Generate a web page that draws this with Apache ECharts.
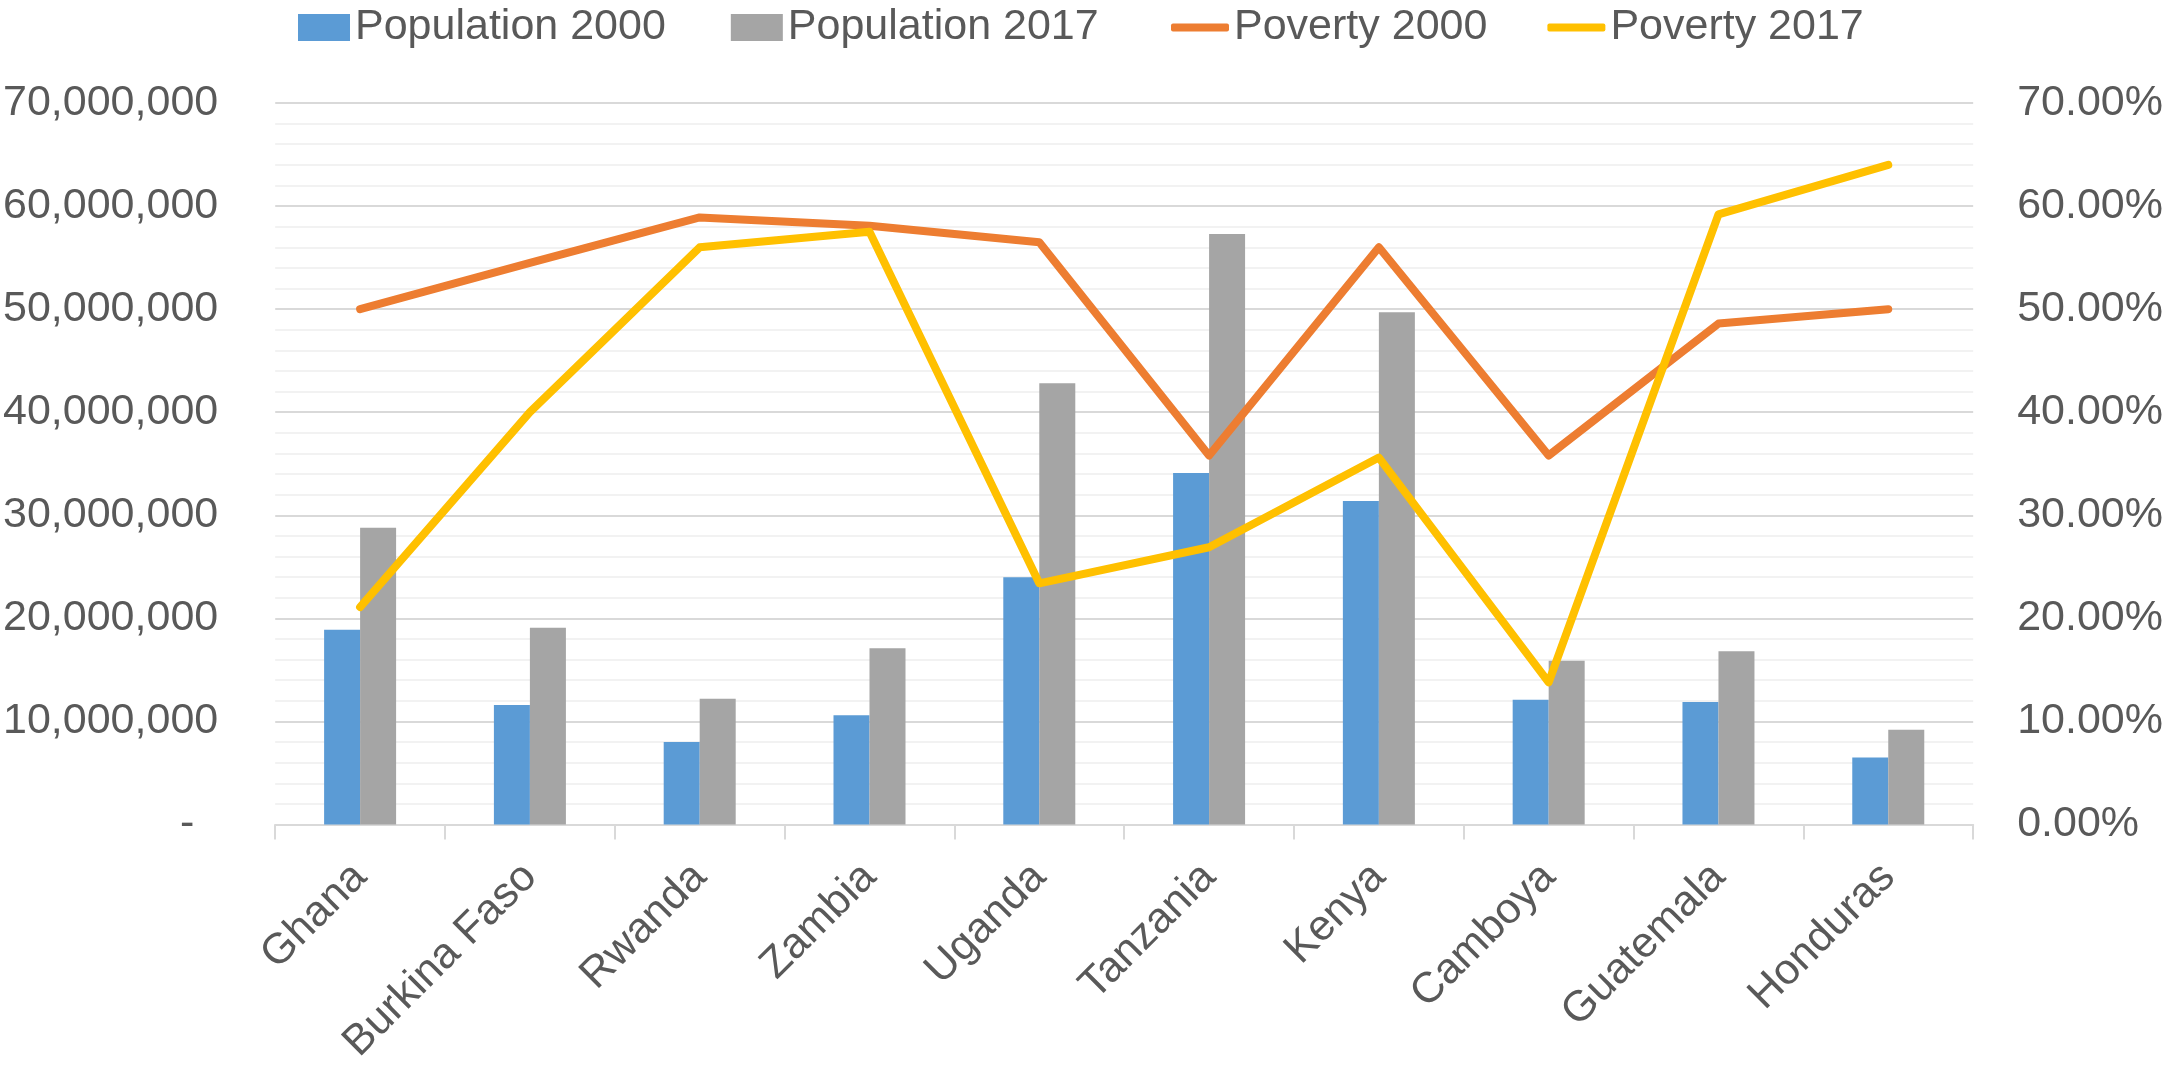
<!DOCTYPE html>
<html>
<head>
<meta charset="utf-8">
<script src="https://cdn.jsdelivr.net/npm/echarts@6/dist/echarts.min.js"></script>
<style>html,body{margin:0;padding:0;background:#fff}#c{width:2166px;height:1067px}</style>
</head>
<body>
<div id="c"></div>
<script>
var categories = ['Ghana','Burkina Faso','Rwanda','Zambia','Uganda','Tanzania','Kenya','Camboya','Guatemala','Honduras'];
var population2000 = [18900000, 11600000, 8000000, 10600000, 24000000, 34100000, 31400000, 12100000, 11900000, 6500000];
var population2017 = [28800000, 19100000, 12200000, 17100000, 42800000, 57300000, 49700000, 15900000, 16800000, 9200000];
var poverty2000 = [0.500, 0.545, 0.589, 0.581, 0.565, 0.358, 0.560, 0.358, 0.486, 0.500];
var poverty2017 = [0.211, 0.400, 0.560, 0.575, 0.234, 0.269, 0.356, 0.138, 0.592, 0.640];

var FONT = 'Liberation Sans';
var TXT = '#595959';
var chart = echarts.init(document.getElementById('c'));
chart.setOption({
  animation: false,
  textStyle: {fontFamily: FONT},
  legend: [
    {
      top: 1,
      left: 293,
      itemWidth: 52,
      itemHeight: 27,
      itemGap: 65,
      textStyle: {fontFamily: FONT, fontSize: 43, color: TXT},
      data: [
        {name: 'Population 2000', icon: 'rect'},
        {name: 'Population 2017', icon: 'rect'}
      ]
    },
    {
      top: 1,
      left: 1166,
      itemWidth: 58,
      itemHeight: 8,
      itemGap: 60,
      textStyle: {fontFamily: FONT, fontSize: 43, color: TXT},
      data: [
        {name: 'Poverty 2000', icon: 'roundRect'},
        {name: 'Poverty 2017', icon: 'roundRect'}
      ]
    }
  ],
  grid: {left: 274, right: 191, top: 103, bottom: 238, containLabel: false},
  xAxis: {
    type: 'category',
    data: categories,
    axisLine: {lineStyle: {color: '#d9d9d9', width: 2}},
    axisTick: {show: true, length: 15, lineStyle: {color: '#d9d9d9', width: 2}},
    axisLabel: {rotate: 45, margin: 46, fontSize: 43, color: TXT, fontFamily: FONT, interval: 0}
  },
  yAxis: [
    {
      type: 'value', min: 0, max: 70000000, interval: 10000000,
      axisLine: {show: false}, axisTick: {show: false},
      axisLabel: {
        margin: 57, fontSize: 43, color: TXT, fontFamily: FONT,
        formatter: function (v) { return v === 0 ? '-  ' : v.toLocaleString('en-US'); }
      },
      splitLine: {show: true, lineStyle: {color: '#d9d9d9', width: 2}},
      minorTick: {show: false, splitNumber: 5},
      minorSplitLine: {show: true, lineStyle: {color: '#f2f2f2', width: 2}}
    },
    {
      type: 'value', min: 0, max: 0.7, interval: 0.1,
      axisLine: {show: false}, axisTick: {show: false},
      axisLabel: {
        margin: 44, fontSize: 43, color: TXT, fontFamily: FONT,
        formatter: function (v) { return (v * 100).toFixed(2) + '%'; }
      },
      splitLine: {show: false}
    }
  ],
  series: [
    {name: 'Population 2000', type: 'bar', data: population2000, barWidth: 36, barGap: '0%',
      itemStyle: {color: '#5b9bd5'}},
    {name: 'Population 2017', type: 'bar', data: population2017, barWidth: 36, barGap: '0%',
      itemStyle: {color: '#a5a5a5'}},
    {name: 'Poverty 2000', type: 'line', yAxisIndex: 1, data: poverty2000, symbol: 'none',
      lineStyle: {color: '#ed7d31', width: 8, cap: 'round', join: 'round'}, itemStyle: {color: '#ed7d31'}},
    {name: 'Poverty 2017', type: 'line', yAxisIndex: 1, data: poverty2017, symbol: 'none',
      lineStyle: {color: '#ffc000', width: 8, cap: 'round', join: 'round'}, itemStyle: {color: '#ffc000'}}
  ]
});
</script>
</body>
</html>
